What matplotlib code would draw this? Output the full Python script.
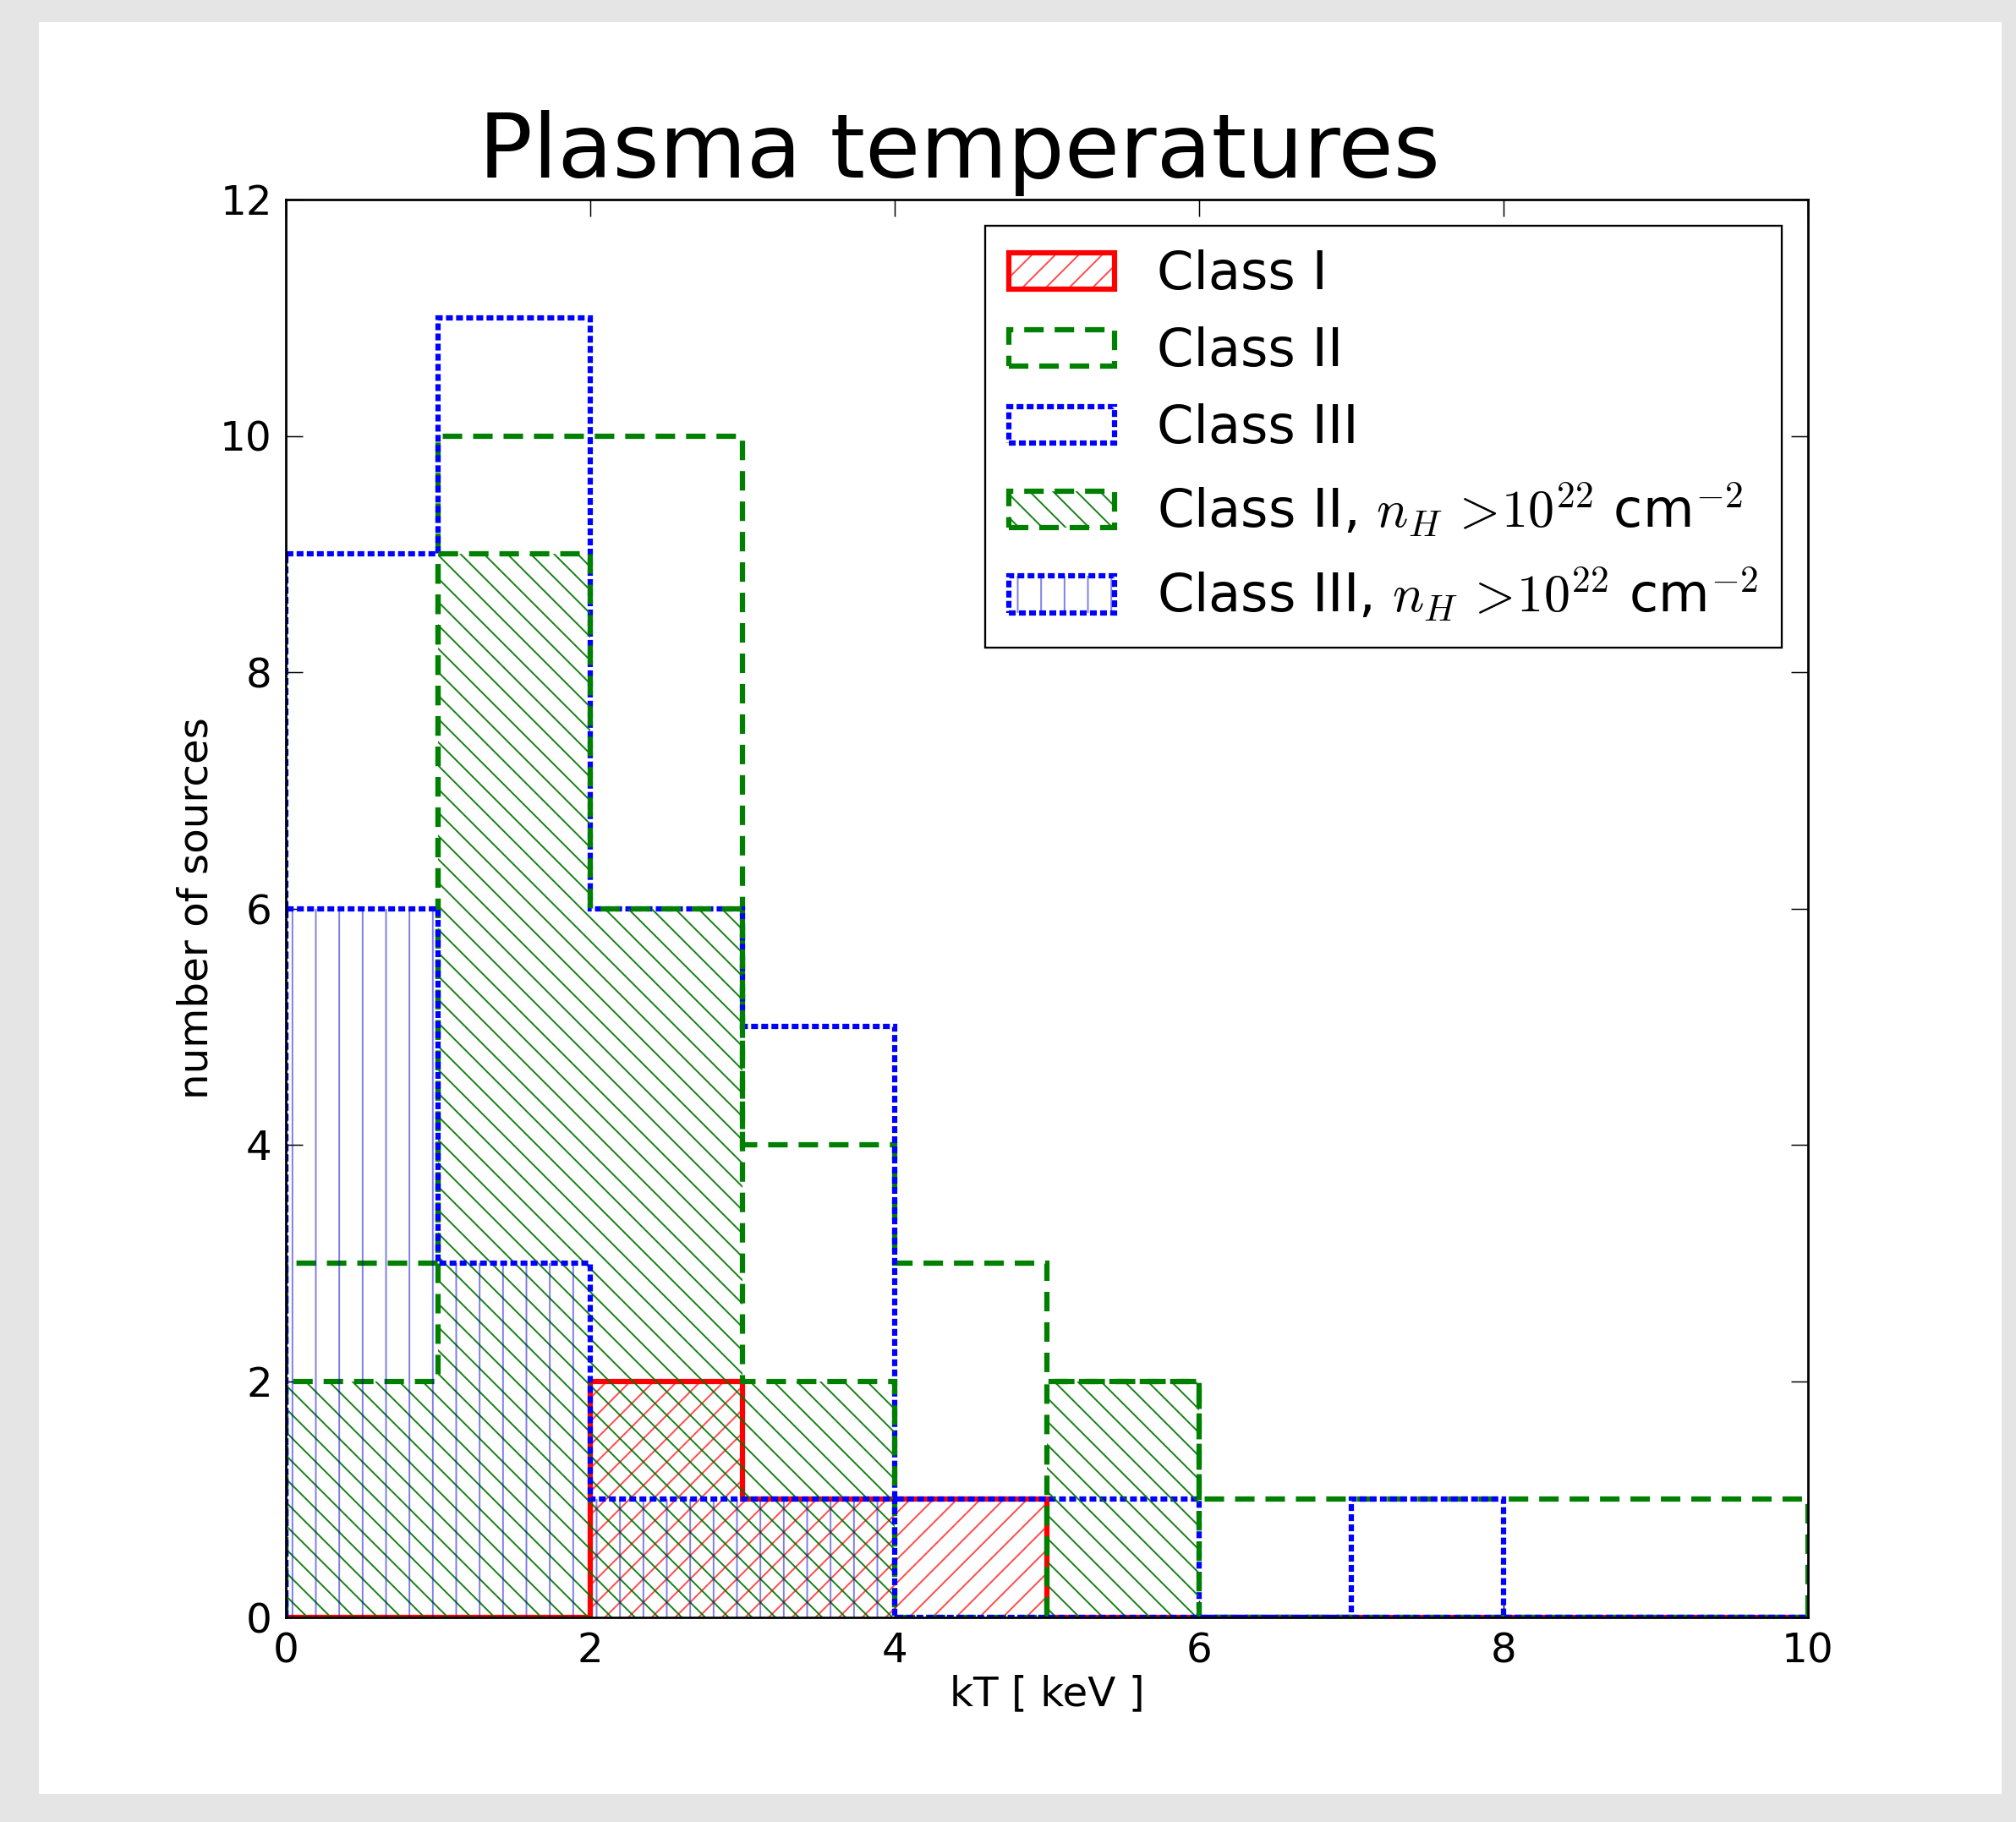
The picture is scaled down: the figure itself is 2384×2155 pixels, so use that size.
import matplotlib
matplotlib.use("Agg")
import matplotlib.pyplot as plt
import matplotlib.patches as mpatches
import numpy as np

# ---------------------------------------------------------------------------
# Data (counts per 1 keV bin, 0..10 keV)
# ---------------------------------------------------------------------------
bin_edges = np.arange(0, 11, 1)
class1    = [0, 0, 2, 1, 1, 0, 0, 0, 0, 0]
class2    = [3, 10, 10, 4, 3, 2, 1, 1, 1, 1]
class3    = [9, 11, 6, 5, 1, 1, 0, 1, 0, 0]
class2_nh = [2, 9, 6, 2, 0, 2, 0, 0, 0, 0]
class3_nh = [6, 3, 1, 1, 0, 0, 0, 0, 0, 0]

labels = [
    "Class I",
    "Class II",
    "Class III",
    r"Class II, $n_H\,>\!10^{22}$ cm$^{-2}$",
    r"Class III, $n_H\,>\!10^{22}$ cm$^{-2}$",
]

# ---------------------------------------------------------------------------
# Style
# ---------------------------------------------------------------------------
DPI = 166
W, H = 2384, 2155
plt.rcParams.update({
    "font.family": "DejaVu Sans",
    "mathtext.fontset": "cm",
    "lines.scale_dashes": False,
    "hatch.linewidth": 0.85,
})

LW = 2.7
DASH = (0, (10, 5.6))
DOT = (0, (3.5, 1.7))

fig = plt.figure(figsize=(W / DPI, H / DPI), dpi=DPI, facecolor="#e5e5e5")
# white panel inside the grey border
fig.patches.append(mpatches.Rectangle(
    (46 / W, 1 - 2122 / H), (2367 - 46) / W, (2122 - 26) / H,
    transform=fig.transFigure, facecolor="white", edgecolor="none", zorder=-5))

ax = fig.add_axes([338 / W, 1 - 1913 / H, (2138 - 338) / W, (1913 - 236) / H])
ax.set_facecolor("white")

centers = bin_edges[:-1] + 0.5
series = [
    (class1,    "red",   "-",  "//",     (1.0, 0.0, 0.0, 0.7)),
    (class2,    "green", DASH, None,     None),
    (class3,    "blue",  DOT,  None,     None),
    (class2_nh, "green", DASH, "\\\\",   (0.0, 0.45, 0.0, 0.9)),
    (class3_nh, "blue",  DOT,  "|",      (0.0, 0.0, 0.8, 0.5)),
]

handles = []
for counts, color, ls, hatch, hcolor in series:
    parts = []
    if hatch:
        _, _, hp = ax.hist(centers, bins=bin_edges, weights=counts,
                           histtype="step", hatch=hatch,
                           edgecolor=hcolor, linewidth=0)
        parts.append(hp[0])
    _, _, ep = ax.hist(centers, bins=bin_edges, weights=counts,
                       histtype="step", edgecolor=color,
                       linewidth=LW, linestyle=ls)
    parts.append(ep[0])
    handles.append(tuple(parts))

ax.set_xlim(0, 10)
ax.set_ylim(0, 12)
ax.set_xticks(np.arange(0, 11, 2))
ax.set_yticks(np.arange(0, 13, 2))
ax.tick_params(direction="in", length=8.7, width=0.65, top=True, right=True,
               labelsize=21, pad=7)
for spine in ax.spines.values():
    spine.set_linewidth(1.2)

ax.set_xlabel("kT [ keV ]", fontsize=21, labelpad=2)
ax.set_ylabel("number of sources", fontsize=21, labelpad=2)

fig.text(1134 / W, 1 - 210 / H, "Plasma temperatures", fontsize=46,
         ha="center", va="baseline")

leg = ax.legend(handles, labels, loc="upper right", fontsize=27,
                fancybox=False, framealpha=1, edgecolor="black",
                handlelength=2.0, handletextpad=0.8, borderpad=0.45,
                labelspacing=0.5, borderaxespad=0.5)
leg.get_frame().set_linewidth(1.0)

fig.savefig("out.png", dpi=DPI, facecolor=fig.get_facecolor())
